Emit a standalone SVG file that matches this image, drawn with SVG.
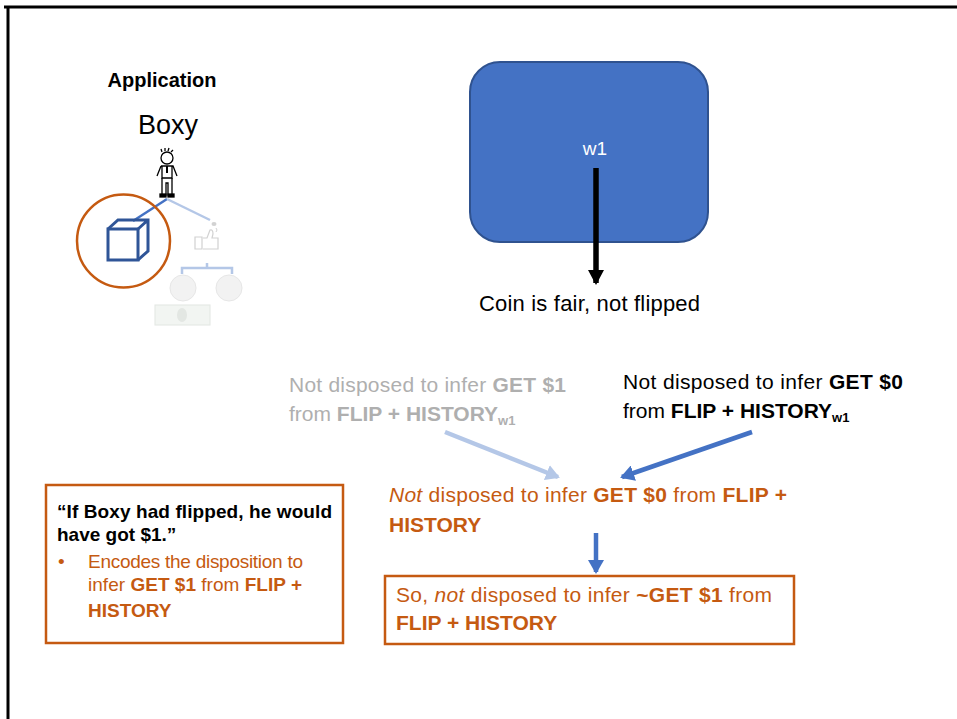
<svg xmlns="http://www.w3.org/2000/svg" width="957" height="719" viewBox="0 0 957 719">
  <style>
    text { font-family: "Liberation Sans", "DejaVu Sans", sans-serif; }
    .t21 { font-size: 21px; }
    .b { font-weight: bold; }
    .gray { fill: #AFAFAF; }
    .black { fill: #000000; }
    .orange { fill: #C55A11; }
    .box { fill: #FFFFFF; stroke: #C55A11; stroke-width: 2.5; }
    .sub { font-size: 13px; }
    .note { font-size: 19px; }
  </style>
  <defs>
    <marker id="headBlack" markerWidth="15" markerHeight="16" refX="13" refY="8" orient="auto" markerUnits="userSpaceOnUse">
      <path d="M0,0 L15,8 L0,16 Z" fill="#000000"/>
    </marker>
    <marker id="headBlue" markerWidth="14" markerHeight="16" refX="12" refY="8" orient="auto" markerUnits="userSpaceOnUse">
      <path d="M0,0 L14,8 L0,16 Z" fill="#4472C4"/>
    </marker>
    <marker id="headLight" markerWidth="14" markerHeight="16" refX="12" refY="8" orient="auto" markerUnits="userSpaceOnUse">
      <path d="M0,0 L14,8 L0,16 Z" fill="#B4C7E7"/>
    </marker>
  </defs>

  <!-- slide frame -->
  <path d="M4,7 L957,7 M8,7 L8,719" fill="none" stroke="#000000" stroke-width="3"/>

  <!-- application panel -->
  <g id="application">
    <text x="162" y="87" text-anchor="middle" class="b black" font-size="20">Application</text>
    <text x="168" y="134" text-anchor="middle" class="black" font-size="27">Boxy</text>
    <!-- tree branches -->
    <line x1="133" y1="221" x2="167" y2="199" stroke="#4472C4" stroke-width="2.5"/>
    <line x1="167" y1="199" x2="210" y2="220" stroke="#B4C7E7" stroke-width="2.5"/>
    <!-- stick figure -->
    <g id="boxy-figure" fill="none" stroke="#000000" stroke-width="1.3">
      <circle cx="167" cy="158" r="6"/>
      <path d="M162,152 l-1,-3 M165,151 l0,-3 M168,151 l1,-3 M171,152 l2,-2"/>
      <path d="M161,166 L173,166 L177,176 M161,166 L157,176 M162,166 L162,178 L172,178 L172,166"/>
      <path d="M162,178 L162,195 L166,195 L166,183 L168,183 L168,195 L172,195 L172,178"/>
      <path d="M167,166 L167,173" stroke-width="2"/>
      <rect x="160" y="194" width="6" height="3" fill="#000000"/>
      <rect x="168" y="194" width="6" height="3" fill="#000000"/>
    </g>
    <!-- highlighted box option -->
    <circle cx="123.5" cy="241" r="46.5" fill="none" stroke="#C55A11" stroke-width="2.5"/>
    <g id="cube" fill="none" stroke="#2F5597" stroke-width="3" stroke-linejoin="miter">
      <rect x="108" y="229" width="30" height="31"/>
      <path d="M108,229 L118,220 L148,220 L148,251 L138,260 M138,229 L148,220"/>
    </g>
    <!-- faded flip option -->
    <g id="flip-option" opacity="0.35">
      <path d="M195,237 L202,237 L202,249 L195,249 Z M203,238 L207,238 L210,230 Q213,229 213,234 L212,238 L218,238 L218,249 L203,249" fill="none" stroke="#7F7F7F" stroke-width="1.2"/>
      <ellipse cx="214" cy="224" rx="2.5" ry="2" fill="#7F7F7F"/>
      <path d="M216,228 q2,2 0,4" fill="none" stroke="#7F7F7F" stroke-width="1"/>
    </g>
    <path d="M182,274 L182,268 L232,268 L232,274 M207,268 L207,263" fill="none" stroke="#B4C7E7" stroke-width="2.5"/>
    <g id="coins" opacity="0.5">
      <circle cx="183" cy="288" r="13" fill="#E7E7E7" stroke="#CFCFCF" stroke-width="1"/>
      <circle cx="229" cy="288" r="13" fill="#E7E7E7" stroke="#CFCFCF" stroke-width="1"/>
      <rect x="155" y="305" width="55" height="20" fill="#E6EDE6" stroke="#C8D0C8" stroke-width="1"/>
      <ellipse cx="182" cy="315" rx="5" ry="7" fill="#C9D0C9"/>
    </g>
  </g>

  <!-- world w1 -->
  <g id="world-w1">
    <rect x="470" y="62" width="238" height="180" rx="30" ry="30" fill="#4472C4" stroke="#2F528F" stroke-width="2"/>
    <text x="595" y="155" text-anchor="middle" fill="#FFFFFF" font-size="19">w1</text>
  </g>

  <g id="coin-fact">
    <text x="479" y="311" class="black" font-size="22" textLength="221" lengthAdjust="spacing">Coin is fair, not flipped</text>
  </g>

  <g id="disp-get1-w1">
    <text x="289" y="392" class="t21 gray" textLength="277" lengthAdjust="spacing">Not disposed to infer <tspan class="b">GET $1</tspan></text>
    <text x="289" y="421" class="t21 gray">from <tspan class="b">FLIP + HISTORY</tspan><tspan class="b sub" dy="4">w1</tspan></text>
  </g>

  <g id="disp-get0-w1">
    <text x="623" y="389" class="t21 black" textLength="280" lengthAdjust="spacing">Not disposed to infer <tspan class="b">GET $0</tspan></text>
    <text x="623" y="418" class="t21 black">from <tspan class="b">FLIP + HISTORY</tspan><tspan class="b sub" dy="4">w1</tspan></text>
  </g>

  <g id="disp-get0">
    <text x="389" y="502" class="t21 orange" textLength="398" lengthAdjust="spacing"><tspan font-style="italic">Not</tspan> disposed to infer <tspan class="b">GET $0</tspan> from <tspan class="b">FLIP +</tspan></text>
    <text x="389" y="532" class="t21 orange b">HISTORY</text>
  </g>

  <g id="conclusion">
    <rect x="385" y="576" width="409" height="68" class="box"/>
    <text x="396" y="602" class="t21 orange" textLength="376" lengthAdjust="spacing">So, <tspan font-style="italic">not</tspan> disposed to infer <tspan class="b">~GET $1</tspan> from</text>
    <text x="396" y="630" class="t21 orange b">FLIP + HISTORY</text>
  </g>

  <g id="counterfactual">
    <rect x="46" y="485" width="297" height="158" class="box"/>
    <text x="57" y="518" class="note b black" textLength="275" lengthAdjust="spacing">“If Boxy had flipped, he would</text>
    <text x="57" y="541" class="note b black">have got $1.”</text>
    <text x="58" y="568" class="note orange">•</text>
    <text x="88" y="568" class="note orange" textLength="215" lengthAdjust="spacing">Encodes the disposition to</text>
    <text x="88" y="591" class="note orange" textLength="214" lengthAdjust="spacing">infer <tspan class="b">GET $1</tspan> from <tspan class="b">FLIP +</tspan></text>
    <text x="88" y="617" class="note orange b">HISTORY</text>
  </g>

  <!-- connectors -->
  <g id="connectors" fill="none">
    <line x1="596" y1="168" x2="596" y2="283" stroke="#000000" stroke-width="5.5" marker-end="url(#headBlack)"/>
    <line x1="445" y1="432" x2="558" y2="477" stroke="#B4C7E7" stroke-width="4.5" marker-end="url(#headLight)"/>
    <line x1="752" y1="432" x2="622" y2="477" stroke="#4472C4" stroke-width="4.5" marker-end="url(#headBlue)"/>
    <line x1="596" y1="533" x2="596" y2="572" stroke="#4472C4" stroke-width="4.5" marker-end="url(#headBlue)"/>
  </g>
</svg>
